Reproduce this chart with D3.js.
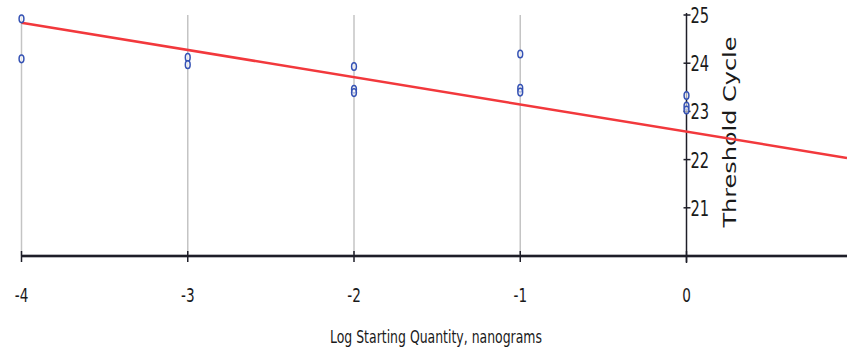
<!DOCTYPE html>
<html>
<head>
<meta charset="utf-8">
<script src="https://cdn.jsdelivr.net/npm/d3@7"></script>
<style>
  body { margin: 0; background: #ffffff; }
  svg { display: block; }
  text { font-family: "DejaVu Sans", Tahoma, sans-serif; fill: #1a1a1a; }
</style>
</head>
<body>
<script>
const width = 847;
const height = 356;

// standard curve replicates
const logQuantity = [-4, -4, -3, -3, -2, -2, -2, -1, -1, -1, 0, 0, 0];
const thresholdCycle = [24.92, 24.09, 24.12, 23.97, 23.93, 23.46, 23.39, 24.19, 23.48, 23.40, 23.33, 23.11, 23.03];

// fitted regression line
const fitSlope = -0.565;
const fitIntercept = 22.58;

const xTicks = [-4, -3, -2, -1, 0];
const yTicks = [21, 22, 23, 24, 25];
const xTitle = "Log Starting Quantity, nanograms";
const yTitle = "Threshold Cycle";

const gridColor = "#c4c4c4";
const axisColor = "#1e1e28";
const fitColor = "#f2383c";
const pointColor = "#3552b4";

const xScale = d3.scaleLinear().domain([-4, 0]).range([21.5, 686.5]);
const yScale = d3.scaleLinear().domain([20, 25]).range([256, 15]);

const svg = d3.select("body").append("svg")
    .attr("width", width)
    .attr("height", height);

// vertical grid lines
svg.append("g")
  .selectAll("line")
  .data(xTicks.filter(d => d !== 0))
  .join("line")
    .attr("x1", d => xScale(d))
    .attr("x2", d => xScale(d))
    .attr("y1", yScale(25))
    .attr("y2", yScale(20))
    .attr("stroke", gridColor)
    .attr("stroke-width", 1.5);

// x axis (bottom)
const xAxis = svg.append("g");
xAxis.append("line")
    .attr("x1", xScale(-4))
    .attr("x2", width)
    .attr("y1", yScale(20))
    .attr("y2", yScale(20))
    .attr("stroke", "#b8b8bc")
    .attr("stroke-width", 4);
xAxis.append("line")
    .attr("x1", xScale(-4))
    .attr("x2", width)
    .attr("y1", yScale(20))
    .attr("y2", yScale(20))
    .attr("stroke", axisColor)
    .attr("stroke-width", 2);
xAxis.selectAll(".tick")
  .data(xTicks)
  .join("line")
    .attr("x1", d => xScale(d))
    .attr("x2", d => xScale(d))
    .attr("y1", yScale(20) - 5)
    .attr("y2", yScale(20) + 6)
    .attr("stroke", axisColor)
    .attr("stroke-width", 1.5);
xAxis.selectAll("text")
  .data(xTicks)
  .join("text")
    .attr("transform", d => `translate(${xScale(d)},302) scale(0.68,1)`)
    .attr("text-anchor", "middle")
    .attr("font-size", 20)
    .text(d => d === 0 ? "0" : "-" + Math.abs(d));

svg.append("text")
    .attr("x", 436)
    .attr("y", 343)
    .attr("text-anchor", "middle")
    .attr("font-size", 18)
    .attr("textLength", 212)
    .attr("lengthAdjust", "spacingAndGlyphs")
    .text(xTitle);

// y axis at x = 0
const yAxis = svg.append("g");
yAxis.append("line")
    .attr("x1", xScale(0))
    .attr("x2", xScale(0))
    .attr("y1", yScale(25) - 2)
    .attr("y2", yScale(20) + 7)
    .attr("stroke", axisColor)
    .attr("stroke-width", 1.5);
yAxis.selectAll(".tick")
  .data(yTicks)
  .join("line")
    .attr("x1", xScale(0) - 3)
    .attr("x2", xScale(0) + 4)
    .attr("y1", d => yScale(d))
    .attr("y2", d => yScale(d))
    .attr("stroke", axisColor)
    .attr("stroke-width", 1.5);
yAxis.selectAll("text")
  .data(yTicks)
  .join("text")
    .attr("transform", d => `translate(${xScale(0) + 4},${yScale(d) + 8}) scale(0.7,1)`)
    .attr("font-size", 21)
    .text(d => d);

svg.append("text")
    .attr("transform", `translate(736,132) rotate(-90)`)
    .attr("text-anchor", "middle")
    .attr("font-family", "'Liberation Sans', Arial, sans-serif")
    .attr("font-size", 17)
    .attr("textLength", 191)
    .attr("lengthAdjust", "spacingAndGlyphs")
    .text(yTitle);

// regression line
const xRight = xScale.invert(width);
svg.append("line")
    .attr("x1", xScale(-4))
    .attr("y1", yScale(fitIntercept + fitSlope * -4))
    .attr("x2", xScale(xRight))
    .attr("y2", yScale(fitIntercept + fitSlope * xRight))
    .attr("stroke", fitColor)
    .attr("stroke-width", 2.5);

// data points
svg.append("g")
  .selectAll("ellipse")
  .data(logQuantity.map((q, i) => ({ q, ct: thresholdCycle[i] })))
  .join("ellipse")
    .attr("cx", d => xScale(d.q))
    .attr("cy", d => yScale(d.ct))
    .attr("rx", 2.4)
    .attr("ry", 3.8)
    .attr("fill", "#ffffff")
    .attr("fill-opacity", 0.6)
    .attr("stroke", pointColor)
    .attr("stroke-width", 1.5);
</script>
</body>
</html>
